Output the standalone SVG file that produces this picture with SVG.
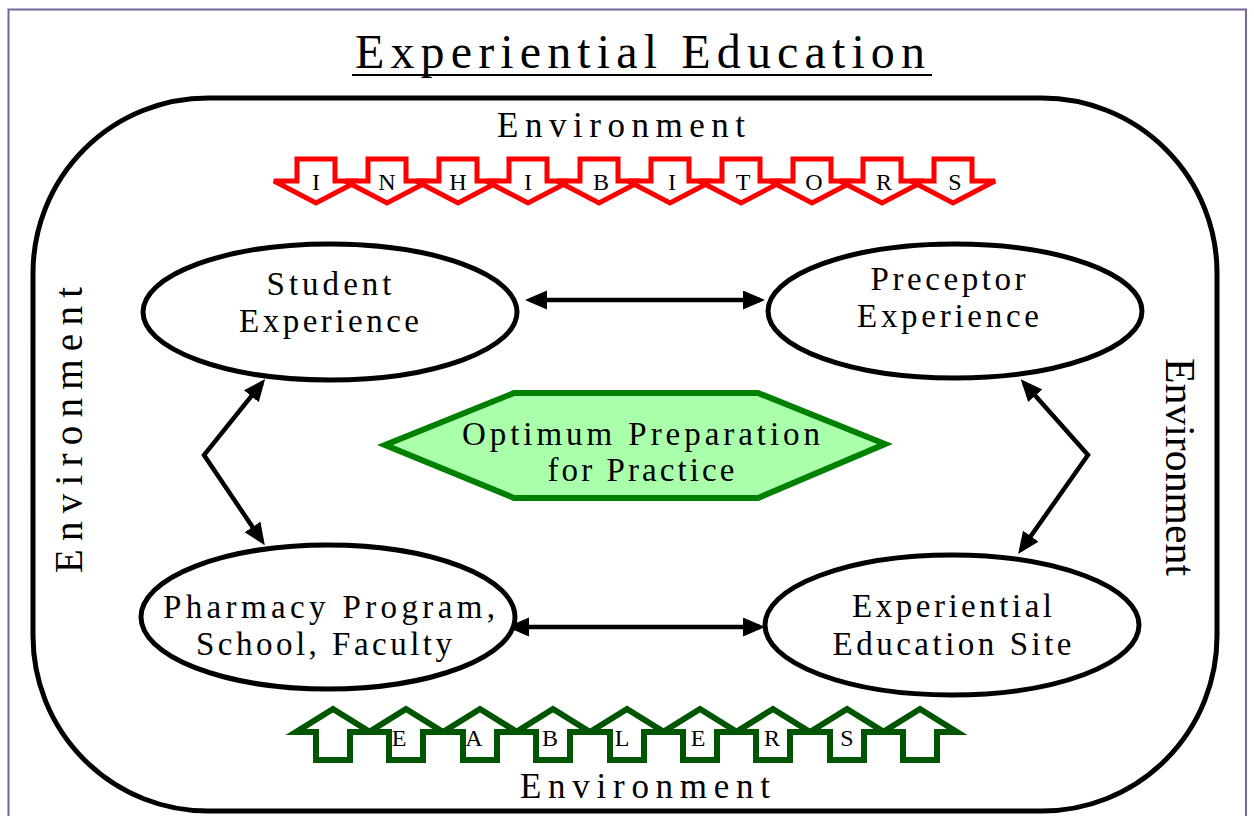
<svg xmlns="http://www.w3.org/2000/svg" width="1254" height="816" viewBox="0 0 1254 816">
  <style>
    .t { font-family: "Liberation Serif", "Times New Roman", serif; fill: #000; }
    .node { fill: #fff; stroke: #000; stroke-width: 5; }
    .conn { fill: none; stroke: #000; stroke-width: 4.5; stroke-linejoin: miter; }
    .inh { fill: #fff; stroke: #ff0000; stroke-width: 5; stroke-linejoin: miter; }
    .enb { fill: #fff; stroke: #005500; stroke-width: 6; stroke-linejoin: miter; }
    .letter { font-family: "Liberation Serif", "Times New Roman", serif; font-size: 24px; text-anchor: middle; fill: #000; }
  </style>
  <defs>
    <marker id="head" markerUnits="userSpaceOnUse" markerWidth="24" markerHeight="20" refX="17" refY="9.5" orient="auto-start-reverse">
      <path d="M0,0 L22,9.5 L0,19 Z" fill="#000"/>
    </marker>
    <!-- down-pointing block arrow, centred on x=0 -->
    <path id="downArrow" d="M-19,159 L19,159 L19,181 L42,181 L0,203 L-42,181 L-19,181 Z"/>
    <!-- up-pointing block arrow, centred on x=0 -->
    <path id="upArrow" d="M0,709 L37,732 L17,732 L17,760 L-17,760 L-17,732 L-37,732 Z"/>
  </defs>

  <rect width="1254" height="816" fill="#fff"/>
  <!-- outer slide frame -->
  <rect x="8.5" y="9.5" width="1237.5" height="900" fill="none" stroke="#76679a" stroke-width="2"/>

  <!-- title -->
  <g id="title">
    <text class="t" x="640" y="68" font-size="48" text-anchor="middle" textLength="570" lengthAdjust="spacing">Experiential Education</text>
    <line x1="352" y1="75" x2="932" y2="75" stroke="#000" stroke-width="2"/>
  </g>

  <!-- environment boundary -->
  <g id="environment">
    <rect x="33" y="98" width="1184" height="713" rx="175" ry="175" fill="none" stroke="#000" stroke-width="5"/>
    <text class="t" x="621" y="137" font-size="35" text-anchor="middle" textLength="248" lengthAdjust="spacing">Environment</text>
    <text class="t" x="645" y="798" font-size="35" text-anchor="middle" textLength="250" lengthAdjust="spacing">Environment</text>
    <text class="t" transform="translate(82,430) rotate(-90)" x="0" y="0" font-size="39" text-anchor="middle" textLength="286" lengthAdjust="spacing">Environment</text>
    <text class="t" transform="translate(1166,467) rotate(90)" x="0" y="0" font-size="43" text-anchor="middle" textLength="218" lengthAdjust="spacingAndGlyphs">Environment</text>
  </g>

  <!-- inhibitors row -->
  <g id="inhibitors">
    <use href="#downArrow" class="inh" transform="translate(316,0)"/>
    <use href="#downArrow" class="inh" transform="translate(387,0)"/>
    <use href="#downArrow" class="inh" transform="translate(458,0)"/>
    <use href="#downArrow" class="inh" transform="translate(528,0)"/>
    <use href="#downArrow" class="inh" transform="translate(599,0)"/>
    <use href="#downArrow" class="inh" transform="translate(670,0)"/>
    <use href="#downArrow" class="inh" transform="translate(741,0)"/>
    <use href="#downArrow" class="inh" transform="translate(812,0)"/>
    <use href="#downArrow" class="inh" transform="translate(882,0)"/>
    <use href="#downArrow" class="inh" transform="translate(953,0)"/>
    <text class="letter" x="316" y="190">I</text>
    <text class="letter" x="387" y="190">N</text>
    <text class="letter" x="458" y="190">H</text>
    <text class="letter" x="528" y="190">I</text>
    <text class="letter" x="601" y="190">B</text>
    <text class="letter" x="672" y="190">I</text>
    <text class="letter" x="743" y="190">T</text>
    <text class="letter" x="814" y="190">O</text>
    <text class="letter" x="884" y="190">R</text>
    <text class="letter" x="955" y="190">S</text>
  </g>

  <!-- enablers row -->
  <g id="enablers">
    <use href="#upArrow" class="enb" transform="translate(333,0)"/>
    <use href="#upArrow" class="enb" transform="translate(406,0)"/>
    <use href="#upArrow" class="enb" transform="translate(480,0)"/>
    <use href="#upArrow" class="enb" transform="translate(553,0)"/>
    <use href="#upArrow" class="enb" transform="translate(627,0)"/>
    <use href="#upArrow" class="enb" transform="translate(700,0)"/>
    <use href="#upArrow" class="enb" transform="translate(773,0)"/>
    <use href="#upArrow" class="enb" transform="translate(847,0)"/>
    <use href="#upArrow" class="enb" transform="translate(920,0)"/>
    <text class="letter" x="399" y="746">E</text>
    <text class="letter" x="474" y="746">A</text>
    <text class="letter" x="550" y="746">B</text>
    <text class="letter" x="622" y="746">L</text>
    <text class="letter" x="698" y="746">E</text>
    <text class="letter" x="772" y="746">R</text>
    <text class="letter" x="847" y="746">S</text>
  </g>

  <!-- connectors -->
  <g id="connectors">
    <path class="conn" d="M530,300 L760,300" marker-start="url(#head)" marker-end="url(#head)"/>
    <path class="conn" d="M512,627 L760,627" marker-start="url(#head)" marker-end="url(#head)"/>
    <path class="conn" d="M262,383 L204,455 L262,541" marker-start="url(#head)" marker-end="url(#head)"/>
    <path class="conn" d="M1024,383 L1088,455 L1021,550" marker-start="url(#head)" marker-end="url(#head)"/>
  </g>

  <!-- nodes -->
  <g id="student">
    <ellipse class="node" cx="330" cy="312" rx="187" ry="68"/>
    <text class="t" x="329" y="295" font-size="33" text-anchor="middle" textLength="125" lengthAdjust="spacing">Student</text>
    <text class="t" x="329" y="332" font-size="33" text-anchor="middle" textLength="180" lengthAdjust="spacing">Experience</text>
  </g>

  <g id="preceptor">
    <ellipse class="node" cx="955" cy="311" rx="187" ry="67"/>
    <text class="t" x="948" y="290" font-size="33" text-anchor="middle" textLength="155" lengthAdjust="spacing">Preceptor</text>
    <text class="t" x="948" y="327" font-size="33" text-anchor="middle" textLength="182" lengthAdjust="spacing">Experience</text>
  </g>

  <g id="program">
    <ellipse class="node" cx="328" cy="617" rx="187" ry="72"/>
    <text class="t" x="329" y="618" font-size="33" text-anchor="middle" textLength="332" lengthAdjust="spacing">Pharmacy Program,</text>
    <text class="t" x="324" y="655" font-size="33" text-anchor="middle" textLength="256" lengthAdjust="spacing">School, Faculty</text>
  </g>

  <g id="site">
    <ellipse class="node" cx="952" cy="625" rx="187" ry="70"/>
    <text class="t" x="952" y="617" font-size="33" text-anchor="middle" textLength="200" lengthAdjust="spacing">Experiential</text>
    <text class="t" x="952" y="655" font-size="33" text-anchor="middle" textLength="239" lengthAdjust="spacing">Education Site</text>
  </g>

  <g id="outcome">
    <polygon points="385,445 514,393 758,393 885,444 758,498 514,498" fill="#aaffaa" stroke="#008000" stroke-width="6" stroke-linejoin="miter"/>
    <text class="t" x="641" y="445" font-size="33" text-anchor="middle" textLength="358" lengthAdjust="spacing">Optimum Preparation</text>
    <text class="t" x="641" y="481" font-size="33" text-anchor="middle" textLength="187" lengthAdjust="spacing">for Practice</text>
  </g>
</svg>
